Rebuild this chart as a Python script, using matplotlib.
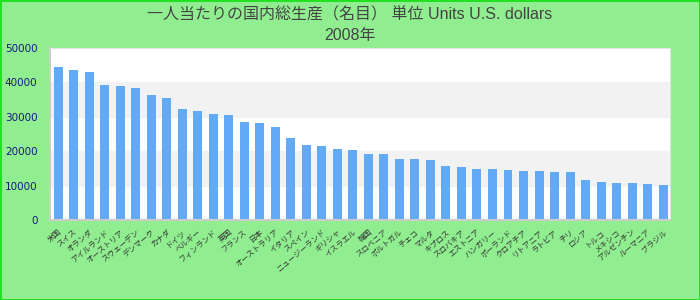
import matplotlib
matplotlib.use("Agg")
import matplotlib.pyplot as plt

# data
countries = ["米国", "スイス", "オランダ", "アイルランド", "オーストリア",
             "スウェーデン", "デンマーク", "カナダ", "ドイツ", "ベルギー",
             "フィンランド", "英国", "フランス", "日本", "オーストラリア",
             "イタリア", "スペイン", "ニュージーランド", "ギリシャ", "イスラエル",
             "韓国", "スロベニア", "ポルトガル", "チェコ", "マルタ",
             "キプロス", "スロバキア", "エストニア", "ハンガリー", "ポーランド",
             "クロアチア", "リトアニア", "ラトビア", "チリ", "ロシア",
             "トルコ", "メキシコ", "アルゼンチン", "ルーマニア", "ブラジル"]
values = [44500, 43600, 43000, 39200, 38900, 38300, 36300, 35500, 32300, 31700,
          30800, 30500, 28500, 28200, 27000, 23800, 21800, 21500, 20600, 20300,
          19200, 19200, 17700, 17700, 17400, 15700, 15400, 14800, 14800, 14500,
          14200, 14200, 14000, 14000, 11600, 11000, 10800, 10800, 10500, 10200]
yticks = [0, 10000, 20000, 30000, 40000, 50000]
title_text = "一人当たりの国内総生産（名目） 単位 Units U.S. dollars\n2008年"

fig = plt.figure(figsize=(7, 3), dpi=100)
fig.patch.set_facecolor("#90ee90")
fig.patch.set_edgecolor("#22e022")
fig.patch.set_linewidth(2)

ax = fig.add_axes([0.0714, 0.267, 0.886, 0.573])
ax.set_facecolor("white")

# alternating bands
for i in range(len(yticks) - 1):
    if i % 2 == 1:
        ax.axhspan(yticks[i], yticks[i + 1], color="#f2f2f2", zorder=0)

x = list(range(len(values)))
ax.bar(x, values, width=0.58, color="#62aaf5", zorder=2)

ax.set_xlim(-0.54, len(values) - 0.54)
ax.set_ylim(0, 50000)
ax.set_yticks(yticks)
ax.set_yticklabels([str(v) for v in yticks], color="#1a1a7a", fontsize=7.5)
ax.tick_params(axis="y", length=0, pad=9)

ax.set_xticks(x)
ax.set_xticklabels(countries, rotation=40, ha="right", rotation_mode="anchor",
                   fontsize=5.5, color="#333333", family=["Noto Sans CJK JP"])
ax.tick_params(axis="x", length=0, pad=6)

for s in ["top", "right"]:
    ax.spines[s].set_color("#e4e4e4")
for s in ["left", "bottom"]:
    ax.spines[s].set_color("#cccccc")
    ax.spines[s].set_linewidth(1.5)

fig.text(0.5, 0.975, title_text, ha="center", va="top", fontsize=11.5,
         color="#444444", linespacing=1.45,
         family=["Liberation Sans", "Noto Sans CJK JP"])

fig.savefig("out.png", dpi=100, facecolor=fig.get_facecolor(),
            edgecolor=fig.patch.get_edgecolor())
